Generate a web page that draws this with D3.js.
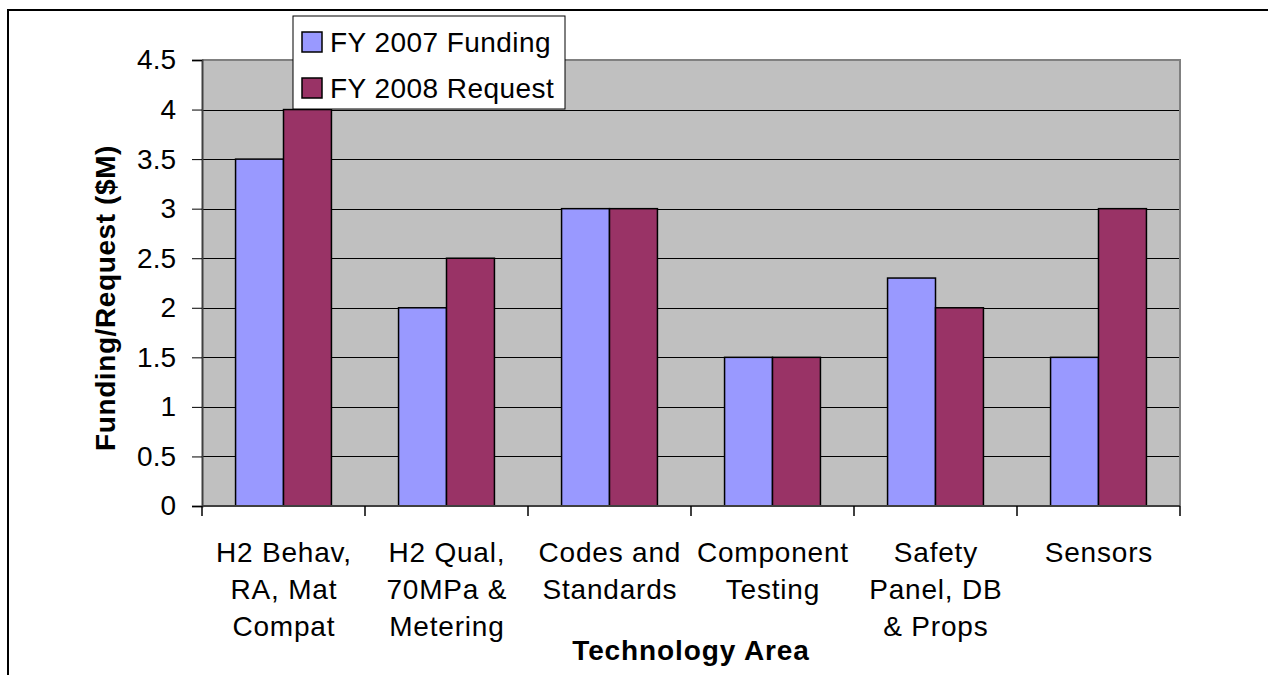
<!DOCTYPE html>
<html>
<head>
<meta charset="utf-8">
<script src="https://cdn.jsdelivr.net/npm/d3@7"></script>
<style>
  html, body { margin: 0; padding: 0; background: #fff; }
  svg { display: block; font-family: "Liberation Sans", Arial, sans-serif; }
</style>
</head>
<body>
<svg id="chart" width="1268" height="675"></svg>
<script>
// chart data
const categories = [
    "H2 Behav,\nRA, Mat\nCompat",
    "H2 Qual,\n70MPa &\nMetering",
    "Codes and\nStandards",
    "Component\nTesting",
    "Safety\nPanel, DB\n& Props",
    "Sensors"
];
const seriesNames = ["FY 2007 Funding", "FY 2008 Request"];
const fy2007 = [3.5, 2.0, 3.0, 1.5, 2.3, 1.5];
const fy2008 = [4.0, 2.5, 3.0, 1.5, 2.0, 3.0];
const yTicks = [0, 0.5, 1, 1.5, 2, 2.5, 3, 3.5, 4, 4.5];
const colors = ["#9999FF", "#993366"];

const svg = d3.select("#chart");
const plot = { left: 202, right: 1180, top: 60, bottom: 506 };

// outer chart border (only top and left visible in the picture)
svg.append("path")
    .attr("d", "M8,680 L8,10 L1275,10")
    .attr("fill", "none")
    .attr("stroke", "#000")
    .attr("stroke-width", 2);

const x0 = d3.scaleBand()
    .domain(d3.range(categories.length))
    .range([plot.left, plot.right])
    .padding(0);

const x1 = d3.scaleBand()
    .domain(d3.range(seriesNames.length))
    .range([0, x0.bandwidth()])
    .paddingInner(0)
    .paddingOuter(0.7);

const y = d3.scaleLinear()
    .domain([0, 4.5])
    .range([plot.bottom, plot.top]);

// plot background
svg.append("rect")
    .attr("x", plot.left)
    .attr("y", plot.top)
    .attr("width", plot.right - plot.left)
    .attr("height", plot.bottom - plot.top)
    .attr("fill", "#C0C0C0");

// gridlines
svg.append("g")
    .selectAll("line")
    .data(yTicks.filter(d => d > 0 && d < 4.5))
    .join("line")
    .attr("x1", plot.left)
    .attr("x2", plot.right)
    .attr("y1", d => Math.round(y(d)) + 0.5)
    .attr("y2", d => Math.round(y(d)) + 0.5)
    .attr("stroke", "#000")
    .attr("stroke-width", 1);

// top and right border of plot area
svg.append("path")
    .attr("d", `M${plot.left},${plot.top} L${plot.right},${plot.top} L${plot.right},${plot.bottom}`)
    .attr("fill", "none")
    .attr("stroke", "#808080")
    .attr("stroke-width", 2);

// bars
const data = categories.map((c, i) => [fy2007[i], fy2008[i]]);
svg.append("g")
    .selectAll("g")
    .data(data)
    .join("g")
    .attr("transform", (d, i) => `translate(${x0(i)},0)`)
    .selectAll("rect")
    .data(d => d)
    .join("rect")
    .attr("x", (d, j) => x1(j))
    .attr("y", d => y(d))
    .attr("width", x1.bandwidth())
    .attr("height", d => y(0) - y(d))
    .attr("fill", (d, j) => colors[j])
    .attr("stroke", "#000")
    .attr("stroke-width", 1.5);

// y axis
const yAxis = svg.append("g")
    .attr("transform", `translate(${plot.left},0)`)
    .call(d3.axisLeft(y).tickValues(yTicks).tickSize(10).tickPadding(16).tickFormat(d => d));
yAxis.select(".domain").attr("stroke", "#404040").attr("stroke-width", 2);
yAxis.selectAll(".tick line").attr("stroke", "#000");
yAxis.selectAll(".tick text")
    .attr("font-size", 28)
    .attr("font-family", "Liberation Sans, Arial, sans-serif")
    .attr("fill", "#000");

// x axis line and boundary ticks
svg.append("line")
    .attr("x1", plot.left)
    .attr("x2", plot.right)
    .attr("y1", plot.bottom)
    .attr("y2", plot.bottom)
    .attr("stroke", "#404040")
    .attr("stroke-width", 2);

svg.append("g")
    .selectAll("line")
    .data(d3.range(categories.length + 1))
    .join("line")
    .attr("x1", i => i < categories.length ? x0(i) : plot.right)
    .attr("x2", i => i < categories.length ? x0(i) : plot.right)
    .attr("y1", plot.bottom)
    .attr("y2", plot.bottom + 10)
    .attr("stroke", "#000")
    .attr("stroke-width", 1.5);

// category labels
svg.append("g")
    .selectAll("text")
    .data(categories)
    .join("text")
    .attr("x", (d, i) => x0(i) + x0.bandwidth() / 2 + 0.4)
    .attr("y", 562)
    .attr("text-anchor", "middle")
    .attr("font-size", 28)
    .attr("letter-spacing", 0.8)
    .attr("fill", "#000")
    .each(function (d) {
        const t = d3.select(this);
        d.split("\n").forEach((line, k) => {
            t.append("tspan")
                .attr("x", t.attr("x"))
                .attr("y", 562 + k * 37)
                .text(line);
        });
    });

// axis titles
svg.append("text")
    .attr("x", (plot.left + plot.right) / 2)
    .attr("y", 660)
    .attr("text-anchor", "middle")
    .attr("font-size", 28)
    .attr("font-weight", "bold")
    .attr("letter-spacing", 0.9)
    .text("Technology Area");

svg.append("text")
    .attr("transform", "translate(115,298) rotate(-90)")
    .attr("text-anchor", "middle")
    .attr("font-size", 28)
    .attr("font-weight", "bold")
    .attr("letter-spacing", 0.6)
    .text("Funding/Request ($M)");

// legend
const legend = svg.append("g");
legend.append("rect")
    .attr("x", 293)
    .attr("y", 16)
    .attr("width", 272)
    .attr("height", 93)
    .attr("fill", "#fff")
    .attr("stroke", "#000")
    .attr("stroke-width", 1);

const items = legend.selectAll("g.item")
    .data(seriesNames)
    .join("g")
    .attr("class", "item")
    .attr("transform", (d, i) => `translate(302,${32 + i * 46})`);
items.append("rect")
    .attr("width", 20)
    .attr("height", 20)
    .attr("fill", (d, i) => colors[i])
    .attr("stroke", "#000")
    .attr("stroke-width", 1.5);
items.append("text")
    .attr("x", 28)
    .attr("y", 20)
    .attr("font-size", 28)
    .attr("letter-spacing", 0.45)
    .text(d => d);
</script>
</body>
</html>
